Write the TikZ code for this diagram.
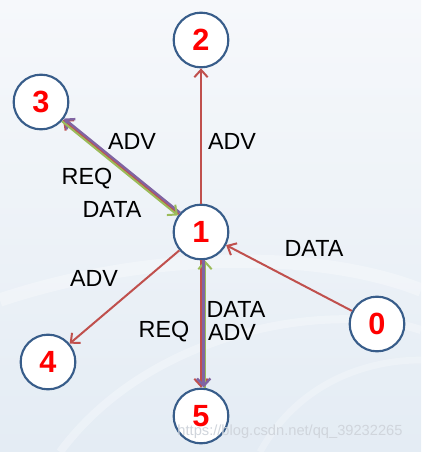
\documentclass[tikz,border=0pt]{standalone}
\usepackage{fontspec}
\setmainfont{Liberation Sans}
\usepackage{tikz}
\usetikzlibrary{arrows.meta}
\definecolor{edgered}{RGB}{192,80,77}
\definecolor{edgepurple}{RGB}{128,100,162}
\definecolor{edgegreen}{RGB}{155,187,89}
\definecolor{nodeblue}{RGB}{56,93,138}
\definecolor{bgtop}{RGB}{246,248,251}
\definecolor{bgbottom}{RGB}{228,236,244}
\definecolor{wmark}{RGB}{208,213,220}

\begin{document}
\begin{tikzpicture}[x=0.75pt, y=-0.75pt,
    station/.style={circle, draw=nodeblue, line width=1.6pt, fill=white, minimum size=41pt, inner sep=0pt, text=red, font=\fontsize{23}{25}\selectfont\bfseries},
    msg/.style={font=\fontsize{17.5}{19}\selectfont, text=black},
    redarrow/.style={-{Straight Barb[length=5.5pt, width=10pt]}, line width=1.5pt, edgered},
    purplearrow/.style={-{Straight Barb[length=5.5pt, width=10pt]}, line width=1.8pt, edgepurple},
    greenarrow/.style={-{Straight Barb[length=5.5pt, width=10pt]}, line width=1.5pt, edgegreen}
]

% Background
\shade[top color=bgtop, bottom color=bgbottom] (0,0) rectangle (421,452);
\useasboundingbox (0,0) rectangle (421,452);
\draw[white, line width=10pt, opacity=0.3] (0,300) .. controls (150,250) and (320,250) .. (421,290);
\draw[white, line width=6pt, opacity=0.3] (60,452) .. controls (150,330) and (330,300) .. (421,330);
\draw[white, line width=5pt, opacity=0.25] (260,452) .. controls (300,380) and (370,360) .. (421,360);

% Stations
\node[station] (n1) at (201,232) {1};
\node[station] (n2) at (201,40) {2};
\node[station] (n3) at (41,102) {3};
\node[station] (n4) at (48,362) {4};
\node[station] (n5) at (201,416) {5};
\node[station] (n0) at (377,324) {0};

% Single links
\draw[redarrow] (n1) -- (n2);
\draw[redarrow] (n1) -- (n4);
\draw[redarrow] (n0) -- (n1);

% 1 and 3
\draw[redarrow] (n1) -- (n3);
\draw[purplearrow, transform canvas={shift={(0.8pt,1pt)}}] (n1) -- (n3);
\draw[greenarrow, transform canvas={shift={(-0.8pt,-1pt)}}] (n3) -- (n1);

% 1 and 5
\draw[redarrow] (n1) -- (n5);
\draw[greenarrow, transform canvas={shift={(3pt,0pt)}}] (n5) -- (n1);
\draw[purplearrow, transform canvas={shift={(2pt,0pt)}}] (n1) -- (n5);

% Messages
\node[msg] (l31) at (132,141) {ADV};
\node[msg] (l32) at (87,179) {REQ};
\node[msg] (l33) at (112,209) {DATA};
\node[msg] (l12) at (232,141) {ADV};
\node[msg] (l01) at (314,248) {DATA};
\node[msg] (l14) at (94,278) {ADV};
\node[msg] (l51) at (236,309) {DATA};
\node[msg] (l52) at (232,332) {ADV};
\node[msg] (l53) at (164,332) {REQ};

% Watermark
\node[font=\fontsize{11}{13}\selectfont, text=wmark] (wm) at (290,432) {https://blog.csdn.net/qq\_39232265};

\end{tikzpicture}
\end{document}
